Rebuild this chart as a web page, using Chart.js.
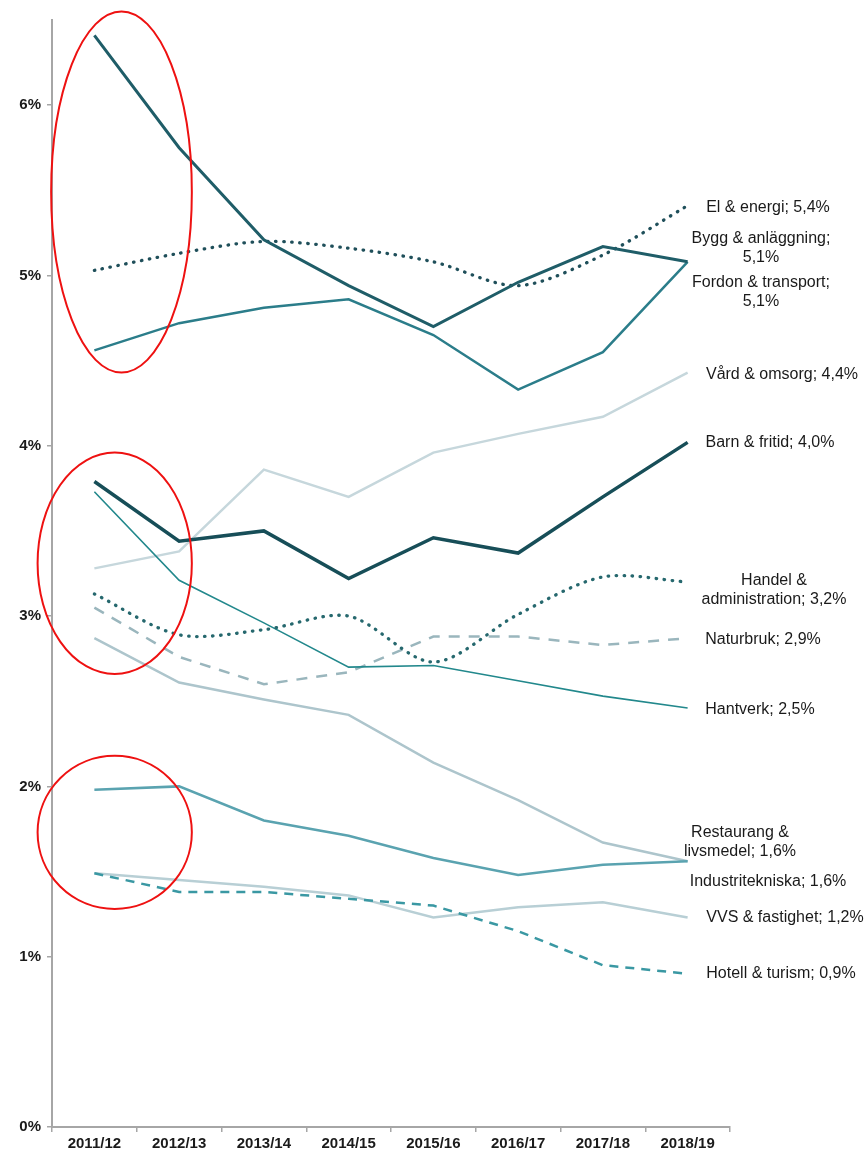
<!DOCTYPE html>
<html>
<head>
<meta charset="utf-8">
<script src="https://cdn.jsdelivr.net/npm/chart.js@4/dist/chart.umd.min.js"></script>
<style>
  body { margin: 0; background: #fff; }
  canvas { display: block; }
</style>
</head>
<body>
<canvas id="line-chart" width="865" height="1155"></canvas>
<script>
// Läsår (x-axel)
const years = ['2011/12', '2012/13', '2013/14', '2014/15', '2015/16', '2016/17', '2017/18', '2018/19'];

// Andel per program i procent
const elEnergi      = [5.03, 5.13, 5.20, 5.16, 5.08, 4.94, 5.12, 5.41];
const byggAnl       = [6.41, 5.75, 5.21, 4.94, 4.70, 4.96, 5.17, 5.08];
const fordonTransp  = [4.56, 4.72, 4.81, 4.86, 4.65, 4.33, 4.55, 5.08];
const vardOmsorg    = [3.28, 3.38, 3.86, 3.70, 3.96, 4.07, 4.17, 4.43];
const barnFritid    = [3.79, 3.44, 3.50, 3.22, 3.46, 3.37, 3.70, 4.02];
const handelAdm     = [3.13, 2.89, 2.92, 3.00, 2.73, 3.01, 3.23, 3.20];
const naturbruk     = [3.05, 2.76, 2.60, 2.67, 2.88, 2.88, 2.83, 2.87];
const hantverk      = [3.73, 3.21, 2.96, 2.70, 2.71, 2.62, 2.53, 2.46];
const restaurang    = [2.87, 2.61, 2.51, 2.42, 2.14, 1.92, 1.67, 1.56];
const industri      = [1.98, 2.00, 1.80, 1.71, 1.58, 1.48, 1.54, 1.56];
const vvsFastighet  = [1.49, 1.45, 1.41, 1.36, 1.23, 1.29, 1.32, 1.23];
const hotellTurism  = [1.49, 1.38, 1.38, 1.34, 1.30, 1.15, 0.95, 0.90];

// Y-axelns tickar
const yTicks = [0, 1, 2, 3, 4, 5, 6];

// Etiketter till höger: text, y (i procent), dx = mitten relativt diagrammets högerkant
const endLabels = [
    { lines: ['El & energi; 5,4%'], y: 5.40, dx: 38 },
    { lines: ['Bygg & anläggning;', '5,1%'], y: 5.16, dx: 31 },
    { lines: ['Fordon & transport;', '5,1%'], y: 4.90, dx: 31 },
    { lines: ['Vård & omsorg; 4,4%'], y: 4.42, dx: 52 },
    { lines: ['Barn & fritid; 4,0%'], y: 4.02, dx: 40 },
    { lines: ['Handel &', 'administration; 3,2%'], y: 3.15, dx: 44 },
    { lines: ['Naturbruk; 2,9%'], y: 2.86, dx: 33 },
    { lines: ['Hantverk; 2,5%'], y: 2.45, dx: 30 },
    { lines: ['Restaurang &', 'livsmedel; 1,6%'], y: 1.67, dx: 10 },
    { lines: ['Industritekniska; 1,6%'], y: 1.44, dx: 38 },
    { lines: ['VVS & fastighet; 1,2%'], y: 1.23, dx: 55 },
    { lines: ['Hotell & turism; 0,9%'], y: 0.90, dx: 51 }
];

// Röda ringar (x i kategori-index, y i procent)
const rings = [
    { x: 0.32, y: 5.49, rx: 0.83, ry: 1.06 },
    { x: 0.24, y: 3.31, rx: 0.91, ry: 0.65 },
    { x: 0.24, y: 1.73, rx: 0.91, ry: 0.45 }
];

const FONT = '"Liberation Sans", Arial, sans-serif';

// Plugin: etiketter och röda ringar
const extrasPlugin = {
    id: 'extras',
    afterDatasetsDraw(chart) {
        const ctx = chart.ctx;
        const xs = chart.scales.x;
        const ys = chart.scales.y;
        ctx.save();
        ctx.fillStyle = '#1a1a1a';
        ctx.font = '16px ' + FONT;
        ctx.textBaseline = 'middle';
        ctx.textAlign = 'center';
        const lh = 19;
        endLabels.forEach(l => {
            const cy = ys.getPixelForValue(l.y);
            const cx = chart.chartArea.right + l.dx;
            l.lines.forEach((t, i) => {
                ctx.fillText(t, cx, cy + (i - (l.lines.length - 1) / 2) * lh);
            });
        });
        // röda ringar
        ctx.strokeStyle = '#ee1111';
        ctx.lineWidth = 2;
        const step = xs.getPixelForValue(1) - xs.getPixelForValue(0);
        const unitY = ys.getPixelForValue(0) - ys.getPixelForValue(1);
        rings.forEach(r => {
            const cx = xs.getPixelForValue(0) + r.x * step;
            const cy = ys.getPixelForValue(r.y);
            ctx.beginPath();
            ctx.ellipse(cx, cy, r.rx * step, r.ry * unitY, 0, 0, Math.PI * 2);
            ctx.stroke();
        });
        ctx.restore();
    }
};

function line(label, data, color, width, dash, tension) {
    return {
        label: label,
        data: data,
        borderColor: color,
        borderWidth: width,
        borderDash: dash || [],
        borderCapStyle: dash && dash[0] <= 1 ? 'round' : 'butt',
        tension: tension || 0,
        pointRadius: 0,
        fill: false
    };
}

const ctx = document.getElementById('line-chart').getContext('2d');
const chart = new Chart(ctx, {
    type: 'line',
    data: {
        labels: years,
        datasets: [
            line('Barn & fritid', barnFritid, '#174e58', 3.5),
            line('Bygg & anläggning', byggAnl, '#1f5d68', 3),
            line('El & energi', elEnergi, '#1f4f5a', 3.3, [0.5, 7.5], 0.3),
            line('Handel & administration', handelAdm, '#26686e', 3.3, [0.5, 7.5], 0.3),
            line('Fordon & transport', fordonTransp, '#2b7d8a', 2.5),
            line('Hantverk', hantverk, '#22888c', 1.6),
            line('Industritekniska', industri, '#5aa3b0', 2.5),
            line('Hotell & turism', hotellTurism, '#3a98a3', 2.5, [9, 7]),
            line('Naturbruk', naturbruk, '#9ab6bd', 2.5, [11, 9]),
            line('Restaurang & livsmedel', restaurang, '#adc5cc', 2.5),
            line('VVS & fastighet', vvsFastighet, '#b8cfd5', 2.5),
            line('Vård & omsorg', vardOmsorg, '#c6d7dc', 2.5)
        ]
    },
    options: {
        responsive: false,
        animation: false,
        layout: { padding: { top: 20, right: 135, left: 0, bottom: 0 } },
        plugins: {
            legend: { display: false },
            tooltip: { enabled: false }
        },
        scales: {
            x: {
                offset: true,
                grid: {
                    offset: true,
                    drawOnChartArea: false,
                    drawTicks: true,
                    tickLength: 5,
                    color: '#a6a6a6',
                    lineWidth: 1.5
                },
                border: { color: '#a6a6a6', width: 2 },
                ticks: {
                    color: '#1a1a1a',
                    font: { family: FONT, size: 15, weight: 'bold' },
                    padding: 3,
                    maxRotation: 0
                },
                afterFit(scale) { scale.height = 28; }
            },
            y: {
                min: 0,
                max: 6.5,
                grid: {
                    drawOnChartArea: false,
                    tickLength: 5,
                    color: '#a6a6a6',
                    lineWidth: 1.5
                },
                border: { color: '#a6a6a6', width: 2 },
                afterBuildTicks(scale) {
                    scale.ticks = yTicks.map(v => ({ value: v }));
                },
                ticks: {
                    color: '#1a1a1a',
                    font: { family: FONT, size: 15, weight: 'bold' },
                    padding: 6,
                    callback: v => v + '%'
                },
                afterFit(scale) { scale.width = 52; }
            }
        }
    },
    plugins: [extrasPlugin]
});
</script>
</body>
</html>
